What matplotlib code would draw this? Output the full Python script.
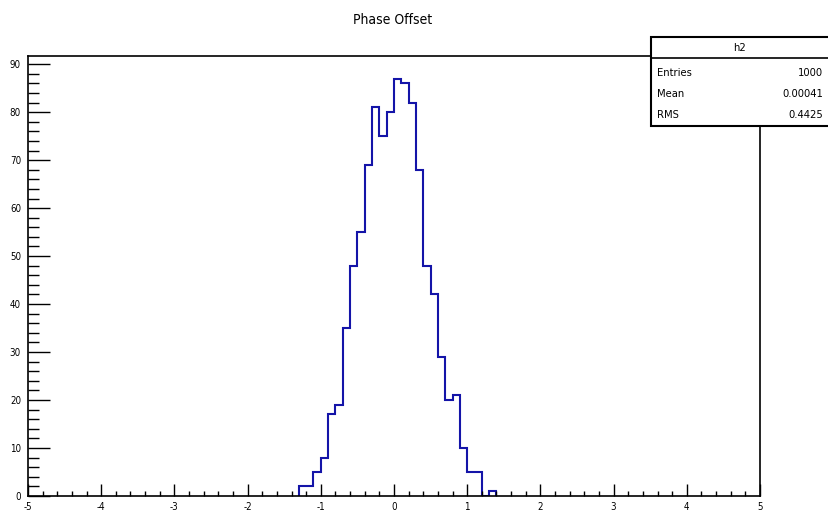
import numpy as np
import matplotlib
matplotlib.use("Agg")
from matplotlib import pyplot as plt
from matplotlib.patches import Rectangle
from matplotlib.ticker import MultipleLocator

plt.rcParams['font.family'] = ['DejaVu Sans']
plt.rcParams['font.stretch'] = 'condensed'
plt.rcParams['axes.unicode_minus'] = False

# histogram h2: bins of 0.1 starting at -1.3
bin_start = -1.3
bin_width = 0.1
counts = [2, 2, 5, 8, 17, 19, 35, 48, 55, 69, 81, 75, 80, 87, 86, 82, 68,
          48, 42, 29, 20, 21, 10, 5, 5, 0, 1]
stat_names = ["Entries", "Mean", "RMS"]
stat_values = ["1000", "0.00041", "0.4425"]
hist_name = "h2"
title = "Phase Offset"

W, H = 829, 517
fig = plt.figure(figsize=(W / 100, H / 100), dpi=100)
ax = fig.add_axes([28 / W, 1 - 496 / H, (760 - 28) / W, (496 - 56) / H])

edges = bin_start + bin_width * np.arange(len(counts) + 1)
ax.stairs(counts, edges, color='#1414a8', linewidth=1.5)

ax.set_xlim(-5, 5)
ax.set_ylim(0, max(counts) * 1.054)
ax.xaxis.set_major_locator(MultipleLocator(1))
ax.xaxis.set_minor_locator(MultipleLocator(0.2))
ax.yaxis.set_major_locator(MultipleLocator(10))
ax.yaxis.set_minor_locator(MultipleLocator(2))
# tick lengths in points (px * 0.72)
ax.tick_params(axis='x', which='major', direction='in', length=8.6, width=1, labelsize=7, pad=4)
ax.tick_params(axis='x', which='minor', direction='in', length=3.8, width=1)
ax.tick_params(axis='y', which='major', direction='in', length=15.8, width=1, labelsize=7, pad=5)
ax.tick_params(axis='y', which='minor', direction='in', length=7.9, width=1)
for s in ax.spines.values():
    s.set_linewidth(1.2)

fig.text(393 / W, 1 - 20 / H, title, ha='center', va='center', fontsize=10)

# stats box
bx0, by0, by1 = 651, 37, 126
box = Rectangle((bx0 / W, 1 - by1 / H), (W + 10 - bx0) / W, (by1 - by0) / H,
                transform=fig.transFigure, facecolor='white', edgecolor='black',
                linewidth=1.5, zorder=5)
fig.patches.append(box)
fig.add_artist(plt.Line2D([bx0 / W, 1], [1 - 58 / H, 1 - 58 / H], color='black',
                          linewidth=1.2, transform=fig.transFigure, zorder=6))
fig.text(740 / W, 1 - 48 / H, hist_name, ha='center', va='center', fontsize=8, zorder=7)
for i, (n, v) in enumerate(zip(stat_names, stat_values)):
    y = 1 - (73 + 21 * i) / H
    fig.text(657 / W, y, n, ha='left', va='center', fontsize=8, zorder=7)
    fig.text(823 / W, y, v, ha='right', va='center', fontsize=8, zorder=7)

fig.savefig('out.png', dpi=100)
